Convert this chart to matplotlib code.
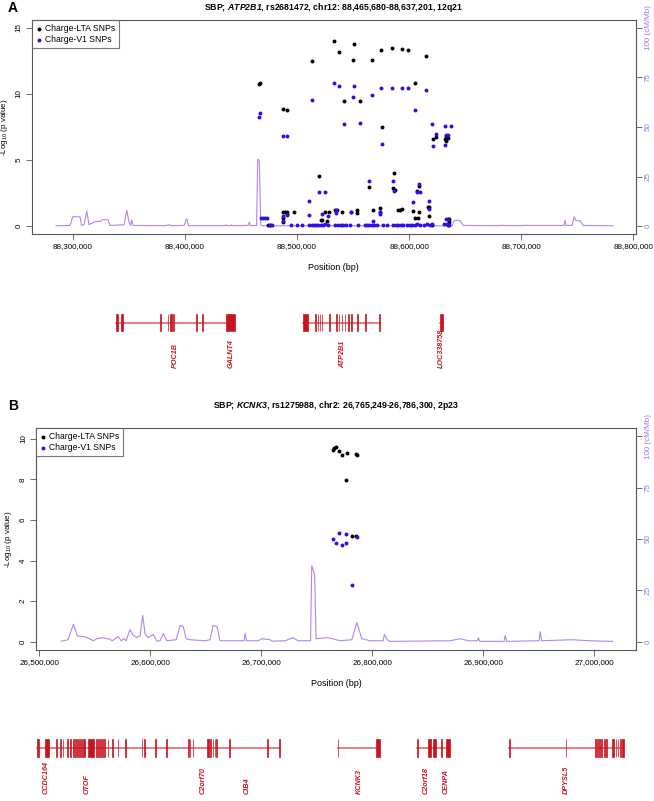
import matplotlib
matplotlib.use('Agg')
import matplotlib.pyplot as plt

plt.rcParams['font.family'] = ['Liberation Sans', 'DejaVu Sans']
plt.rcParams['mathtext.fontset'] = 'custom'
plt.rcParams['mathtext.rm'] = 'Liberation Sans'
plt.rcParams['mathtext.it'] = 'Liberation Sans:italic'
plt.rcParams['mathtext.bf'] = 'Liberation Sans:italic:bold'  # gene names in titles

#------panel A data (chr12)------#
lta_a = [(88466300, 10.75), (88466800, 10.82), (88487300, 8.83), (88490900, 8.76),
         (88513700, 12.46), (88520000, 3.80), (88533400, 13.98), (88537500, 13.15),
         (88550700, 13.79), (88550000, 12.54), (88542300, 9.49), (88556000, 9.49),
         (88566700, 12.54), (88575000, 13.35), (88585100, 13.48), (88593500, 13.40),
         (88598800, 13.35), (88576200, 7.51), (88615100, 12.90), (88605600, 10.81),
         (88621100, 6.57), (88624100, 6.75), (88632100, 6.60), (88633000, 6.80),
         (88634500, 6.70), (88632500, 6.45), (88564000, 2.94), (88586900, 4.04),
         (88586000, 2.89), (88587200, 2.74), (88609200, 3.00), (88606900, 2.62),
         (88617800, 1.47), (88521000, 0.46), (88487300, 1.07), (88489400, 1.10),
         (88490900, 1.10), (88497400, 1.10), (88487300, 0.33), (88487300, 0.61),
         (88490900, 0.90), (88525100, 1.10), (88528600, 1.05), (88522100, 0.45),
         (88527100, 0.40), (88534000, 1.20), (88536000, 1.20), (88540000, 1.03),
         (88548200, 1.03), (88553300, 1.20), (88553300, 0.99), (88567600, 1.24),
         (88574100, 1.34), (88574100, 1.10), (88590200, 1.25), (88593500, 1.30),
         (88592000, 1.20), (88603300, 1.17), (88605600, 0.61), (88608300, 0.61),
         (88617200, 1.47), (88617800, 0.78), (88620200, 0.10), (88634500, 0.53),
         (88635700, 0.53), (88635000, 0.10), (88636000, 0.30), (88474000, 0.05),
         (88476000, 0.05), (88609200, 1.05)]

v1_a = [(88466300, 8.28), (88466800, 8.53), (88487300, 6.80), (88490900, 6.80),
        (88513700, 9.54), (88533400, 10.81), (88537500, 10.63), (88550700, 10.63),
        (88550000, 9.75), (88542300, 7.71), (88556000, 7.84), (88566700, 9.92),
        (88575000, 10.43), (88585100, 10.43), (88593500, 10.43), (88598800, 10.43),
        (88576200, 6.19), (88615100, 10.30), (88605600, 8.78), (88620200, 7.71),
        (88624100, 7.00), (88621100, 6.06), (88632100, 7.56), (88637000, 7.56),
        (88633000, 6.87), (88634500, 6.93), (88632100, 6.12), (88564000, 3.40),
        (88586000, 3.40), (88586900, 2.69), (88609200, 3.15), (88606900, 2.60),
        (88609800, 2.60), (88617800, 1.87), (88520000, 2.55), (88525100, 2.55),
        (88511100, 1.87), (88603300, 1.80), (88511100, 0.86), (88487300, 0.78),
        (88487300, 0.40), (88490900, 0.85), (88522100, 0.90), (88528100, 0.78),
        (88535000, 1.25), (88534500, 1.00), (88548200, 1.05), (88567600, 0.40),
        (88574100, 1.10), (88574500, 0.95), (88617800, 1.30), (88633000, 0.50),
        (88634500, 0.55), (88467700, 0.58), (88469500, 0.58), (88471500, 0.58),
        (88473300, 0.58), (88476000, 0.05), (88477800, 0.05), (88494500, 0.08),
        (88500300, 0.08), (88504300, 0.08), (88511100, 0.10), (88513000, 0.08),
        (88515000, 0.08), (88517000, 0.10), (88519000, 0.08), (88521000, 0.10),
        (88523000, 0.08), (88525000, 0.12), (88527500, 0.08), (88534000, 0.10),
        (88536500, 0.08), (88539000, 0.10), (88541500, 0.08), (88544000, 0.10),
        (88547400, 0.08), (88554800, 0.08), (88560700, 0.10), (88562500, 0.08),
        (88564500, 0.10), (88567000, 0.08), (88569000, 0.10), (88571200, 0.08),
        (88577100, 0.08), (88580100, 0.10), (88586000, 0.08), (88588000, 0.10),
        (88590000, 0.08), (88592500, 0.10), (88595000, 0.08), (88597900, 0.10),
        (88600900, 0.08), (88603000, 0.10), (88605500, 0.08), (88607500, 0.12),
        (88610000, 0.08), (88613000, 0.10), (88616000, 0.12), (88618500, 0.10),
        (88620800, 0.15), (88631000, 0.12), (88633500, 0.15), (88636000, 0.10)]

# recombination rate, cM/Mb
recomb_a = [(88285100, 0.13), (88297600, 0.33), (88300000, 4.7), (88306500, 4.7),
            (88307850, 0.33), (88310100, 0.67), (88312500, 7.7), (88314500, 0.67),
            (88319900, 2.3), (88324400, 2.3), (88326100, 3.2), (88331500, 3.2),
            (88333300, 0.33), (88345800, 0.67), (88348200, 8.0), (88350200, 2.0),
            (88351600, 0.33), (88352600, 3.0), (88353800, 0.33), (88382300, 0.2),
            (88386200, 0.67), (88387200, 0.2), (88399300, 0.33), (88401700, 3.7),
            (88403300, 0.2), (88435900, 0.2), (88436500, 0.67), (88437200, 0.2),
            (88441200, 0.2), (88441800, 0.67), (88442500, 0.2), (88456400, 0.33),
            (88457500, 2.0), (88458600, 0.2), (88464000, 0.33), (88465000, 33.7),
            (88466400, 33.3), (88467700, 0.67), (88468900, 0.13), (88638300, 0.13),
            (88640100, 2.7), (88642800, 3.0), (88645500, 2.7), (88648200, 0.33),
            (88676700, 0.2), (88681200, 0.33), (88699000, 0.2), (88700800, 0.33),
            (88738200, 0.33), (88739100, 3.0), (88740000, 0.33), (88745400, 0.33),
            (88747200, 4.7), (88749000, 2.7), (88752600, 2.7), (88755200, 0.33),
            (88782000, 0.13)]

xticks_a = [88300000, 88400000, 88500000, 88600000, 88700000, 88800000]
yticks_a = [0, 5, 10, 15]

gene_lines_a = [(88338400, 88444400), (88505700, 88574100), (88627300, 88630200)]
exons_a = [(88338400, 88340000), (88342900, 88344400), (88378200, 88378900),
           (88384600, 88385300), (88387200, 88388200), (88389700, 88390400),
           (88409800, 88410500), (88415400, 88416100), (88437000, 88444400),
           (88505700, 88509400), (88516500, 88517100), (88518400, 88519000),
           (88520200, 88520800), (88522100, 88522700), (88528800, 88529400),
           (88534700, 88535300), (88537300, 88537900), (88540000, 88540600),
           (88542500, 88543100), (88545500, 88546100), (88548500, 88549100),
           (88553700, 88554300), (88560700, 88561300), (88573500, 88574100),
           (88627300, 88630200)]
gene_names_a = ['POC1B', 'GALNT4', 'ATP2B1', 'LOC338758']
gene_label_pos_a = [88391300, 88441400, 88540700, 88628700]

#------panel B data (chr2)------#
lta_b = [(26764600, 9.44), (26765700, 9.53), (26767500, 9.61), (26770200, 9.39),
         (26772700, 9.20), (26777200, 9.28), (26785600, 9.23), (26786200, 9.20),
         (26776300, 7.95), (26782200, 5.22), (26785300, 5.20)]
v1_b = [(26765100, 5.06), (26767500, 4.88), (26770200, 5.34), (26772700, 4.76),
        (26776600, 5.29), (26776300, 4.88), (26786200, 5.17), (26782200, 2.78)]

recomb_b = [(26519800, 0.3), (26525900, 1.0), (26530700, 8.5), (26534300, 2.8),
            (26541200, 2.5), (26548700, 0.5), (26552000, 1.5), (26557400, 2.0),
            (26563700, 1.2), (26565600, 0.5), (26571200, 2.5), (26573700, 0.5),
            (26576400, 1.5), (26578200, 0.5), (26581800, 5.9), (26584200, 3.5),
            (26587800, 2.0), (26590800, 3.0), (26593200, 12.8), (26595300, 4.0),
            (26598000, 2.0), (26602800, 3.5), (26605900, 0.3), (26608800, 0.5),
            (26611800, 4.0), (26614900, 0.5), (26623300, 1.0), (26626900, 7.9),
            (26629800, 7.4), (26632300, 1.5), (26635900, 1.0), (26649400, 0.5),
            (26653900, 1.0), (26656600, 7.9), (26660200, 7.4), (26662900, 0.5),
            (26684600, 0.5), (26685500, 4.0), (26686800, 0.5), (26697200, 0.5),
            (26700500, 1.5), (26708000, 1.0), (26709800, 0.3), (26721600, 0.5),
            (26728500, 2.0), (26733300, 0.5), (26744500, 0.5), (26745600, 37.0),
            (26748200, 32.6), (26749500, 1.5), (26759400, 2.0), (26763900, 1.5),
            (26771100, 0.5), (26781700, 1.0), (26786200, 9.4), (26790700, 1.5),
            (26798200, 0.5), (26809900, 0.5), (26811100, 3.5), (26813500, 1.0),
            (26816200, 0.2), (26870300, 0.5), (26879400, 1.5), (26886600, 0.5),
            (26894700, 0.5), (26895900, 2.0), (26896900, 0.2), (26919000, 0.2),
            (26919900, 3.0), (26921300, 0.2), (26950600, 0.5), (26951500, 4.9),
            (26952800, 0.5), (26980100, 1.0), (26996600, 0.5), (27016700, 0.2)]

xticks_b = [26500000, 26600000, 26700000, 26800000, 26900000, 27000000]
yticks_b = [0, 2, 4, 6, 8, 10]

gene_lines_b = [(26497700, 26717400), (26768900, 26807200), (26840300, 26870300),
                (26923700, 27027000)]
exons_b = [(26497700, 26498400), (26499100, 26499800), (26505100, 26508900),
           (26515300, 26516000), (26519000, 26519700), (26520900, 26521600),
           (26524700, 26525400), (26527700, 26528400), (26530300, 26531000),
           (26532200, 26532900), (26534100, 26534800), (26536000, 26536700),
           (26537800, 26538500), (26539700, 26541600), (26543500, 26549100),
           (26551000, 26551700), (26552800, 26553500), (26554700, 26555400),
           (26556600, 26557300), (26558500, 26559200), (26561500, 26562200),
           (26565300, 26566000), (26570500, 26571200), (26577300, 26578000),
           (26592300, 26593000), (26594200, 26594900), (26604300, 26605000),
           (26614100, 26614800), (26634400, 26635100), (26635500, 26636200),
           (26638100, 26638800), (26651300, 26652000), (26652400, 26653100),
           (26654300, 26655000), (26656200, 26656900), (26658100, 26658800),
           (26659300, 26660000), (26671200, 26671900), (26705400, 26706100),
           (26716300, 26717400), (26768900, 26769600), (26803400, 26807200),
           (26840300, 26841000), (26850800, 26853000), (26854600, 26857200),
           (26862000, 26862700), (26866500, 26870300), (26923700, 26924400),
           (26974400, 26975100), (27000700, 27001400), (27002600, 27003300),
           (27004500, 27005200), (27006300, 27007000), (27009400, 27010100),
           (27011200, 27011900), (27016100, 27016800), (27017600, 27018300),
           (27019500, 27020200), (27021400, 27022100), (27023300, 27024000),
           (27025100, 27027000)]
gene_names_b = ['CCDC164', 'OTOF', 'C2orf70', 'CIB4', 'KCNK3', 'C2orf18',
                'CENPA', 'DPYSL5']
gene_label_pos_b = [26506000, 26543500, 26647600, 26687000, 26788500, 26848900,
                    26866500, 26975000]

#------style------#
W, H = 654, 801
col_lta = 'black'
col_v1 = '#2a12e6'
col_rec = '#b583f0'
col_rec_txt = '#a36ef0'
col_exon = '#c8141e'
col_gline = '#e05a5a'
col_frame = '#555555'
legend_labels = ['Charge-LTA SNPs', 'Charge-V1 SNPs']


def px_axes(left, top, right, bottom):
    return fig.add_axes([left / W, 1 - bottom / H, (right - left) / W, (bottom - top) / H])


def assoc_panel(ax, lta, v1, recomb, xlim, ymax, xticks, yticks):
    ext = 0.04 * ymax
    ax.set_xlim(xlim)
    ax.set_ylim(-ext, ymax + ext)
    scale = ymax / 100.0
    ax.plot([p for p, r in recomb], [r * scale for p, r in recomb],
            color=col_rec, lw=0.8, zorder=1)
    ax.scatter([p for p, v in lta], [v for p, v in lta], s=8, color=col_lta,
               lw=0, zorder=3, label=legend_labels[0])
    ax.scatter([p for p, v in v1], [v for p, v in v1], s=8, color=col_v1,
               lw=0, zorder=3, label=legend_labels[1])
    for s in ax.spines.values():
        s.set_color(col_frame)
        s.set_linewidth(0.8)
    ax.tick_params(direction='out', length=4.5, width=0.6, color=col_frame,
                   labelsize=5.8, pad=2)
    ax.set_xticks(xticks)
    ax.set_xticklabels(['{:,}'.format(v) for v in xticks])
    ax.set_yticks(yticks)
    ax.set_yticklabels([str(v) for v in yticks], rotation=90, va='center')
    ax.set_xlabel('Position (bp)', fontsize=6.5, labelpad=9)
    ax.set_ylabel('-Log$_{10}$ (p value)', fontsize=5.8, labelpad=4)
    leg = ax.legend(loc='upper left', borderaxespad=0, fontsize=6.2, frameon=True,
                    fancybox=False, edgecolor=col_frame, handletextpad=0.3,
                    borderpad=0.45, labelspacing=0.25, handlelength=0.8)
    leg.get_frame().set_linewidth(0.8)
    # right axis for recombination rate
    ax2 = ax.twinx()
    ax2.set_ylim(-ext / scale, (ymax + ext) / scale)
    ax2.set_yticks([0, 25, 50, 75, 100])
    ax2.set_yticklabels(['0', '25', '50', '75', '100 (cM/Mb)'], rotation=90,
                        va='center', color=col_rec_txt)
    ax2.tick_params(direction='out', length=4.5, width=0.6, color=col_frame,
                    labelsize=5.8, pad=2)
    for s in ax2.spines.values():
        s.set_visible(False)


def gene_panel(ax, xlim, lines, exons, names, label_pos, yline, h, ylab, ylim):
    ax.set_xlim(xlim)
    ax.set_ylim(ylim)
    ax.axis('off')
    for a, b in lines:
        ax.plot([a, b], [yline, yline], color=col_gline, lw=1.1, zorder=1)
    for a, b in exons:
        ax.add_patch(plt.Rectangle((a, yline - h / 2), b - a, h, facecolor=col_exon,
                                   edgecolor=col_exon, lw=0.5, zorder=2))
    for name, x in zip(names, label_pos):
        ax.text(x, ylab, name, rotation=90, ha='center', va='bottom', fontsize=5.2,
                fontstyle='italic', fontweight='bold', color=col_exon)


fig = plt.figure(figsize=(W / 100, H / 100), dpi=100)

#------panel A------#
axA = px_axes(31.7, 20, 636, 234)
assoc_panel(axA, lta_a, v1_a, recomb_a, (88263400, 88802400), 15, xticks_a, yticks_a)
fig.text(8 / W, 1 - 8 / H, 'A', fontsize=10, fontweight='bold', va='center')
fig.text(334 / W, 1 - 8 / H,
         'SBP; $\\mathbf{ATP2B1}$, rs2681472, chr12: 88,465,680-88,637,201, 12q21',
         fontsize=6.3, fontweight='bold', ha='center', va='center')

gA = px_axes(31.7, 300, 636, 380)
gene_panel(gA, (88263400, 88802400), gene_lines_a, exons_a, gene_names_a,
           gene_label_pos_a, 322.7, 17.4, 368, (380, 300))

#------panel B------#
axB = px_axes(36, 428, 636, 650)
assoc_panel(axB, lta_b, v1_b, recomb_b, (26497000, 27037900), 10.12, xticks_b, yticks_b)
fig.text(8 / W, 1 - 406 / H, 'B', fontsize=10, fontweight='bold', va='center')
fig.text(336 / W, 1 - 406 / H,
         'SBP; $\\mathbf{KCNK3}$, rs1275988, chr2: 26,765,249-26,786,300, 2p23',
         fontsize=6.3, fontweight='bold', ha='center', va='center')

gB = px_axes(36, 725, 636, 801)
gene_panel(gB, (26497000, 27037900), gene_lines_b, exons_b, gene_names_b,
           gene_label_pos_b, 747.7, 18.4, 794, (801, 725))

fig.savefig('out.png', dpi=100)
